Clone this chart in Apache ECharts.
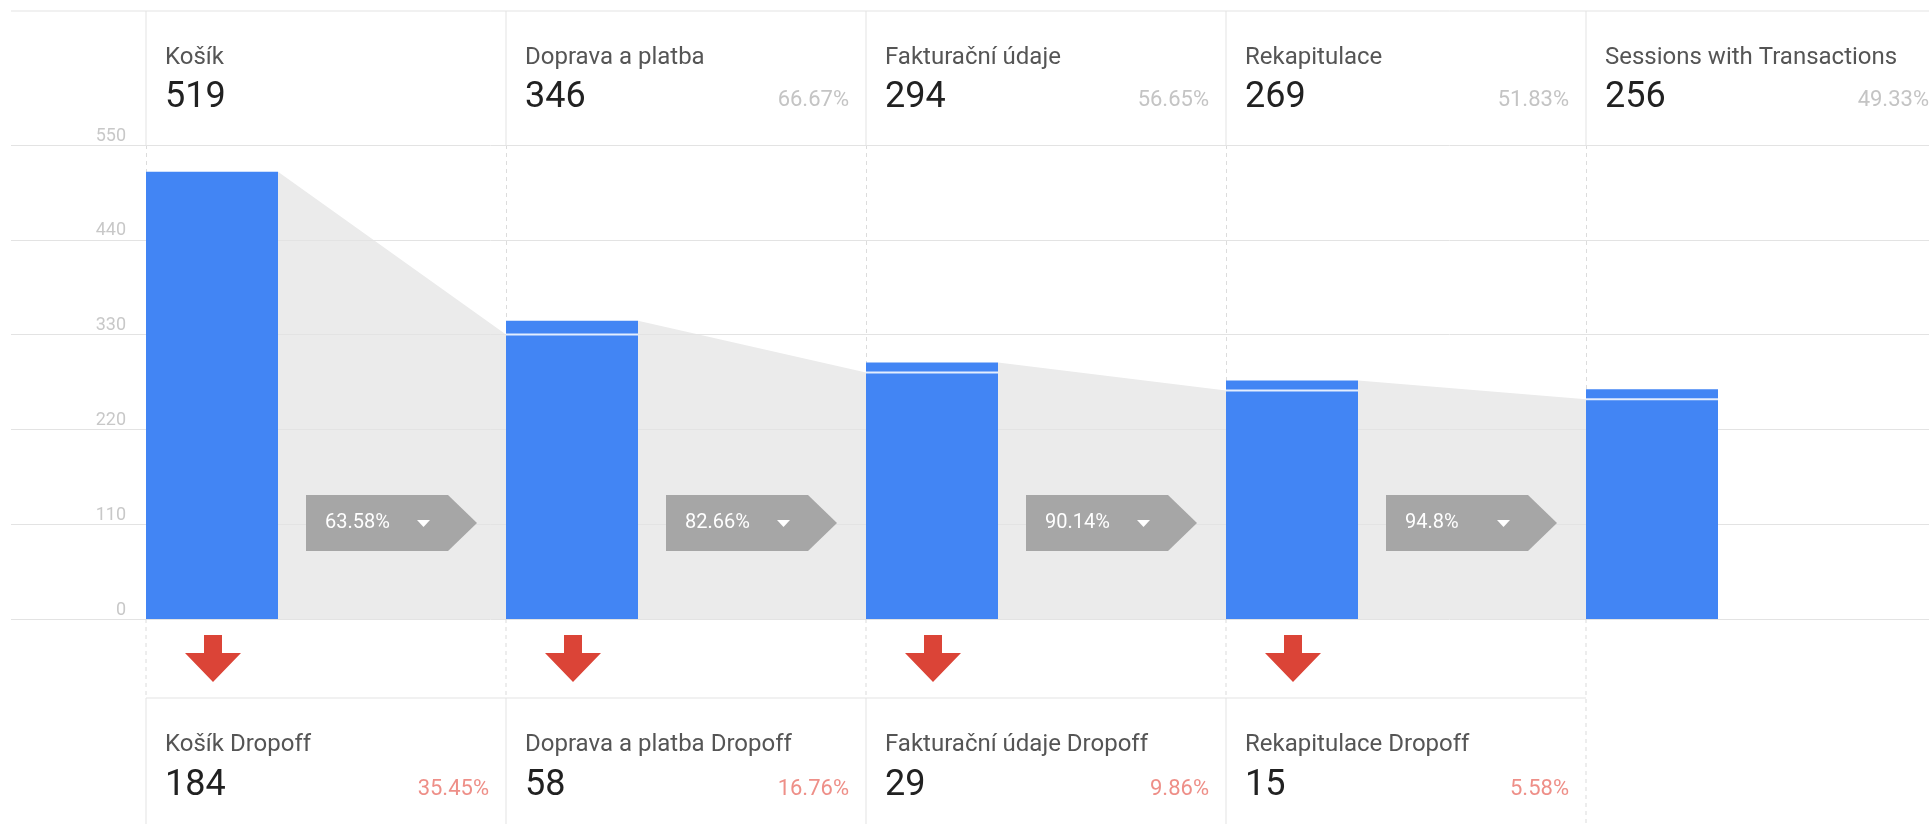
<!DOCTYPE html>
<html>
<head>
<meta charset="utf-8">
<script src="https://cdn.jsdelivr.net/npm/echarts/dist/echarts.min.js"></script>
<style>
  html, body { margin: 0; padding: 0; background: #fff; overflow: hidden; }
  #funnel { width: 1946px; height: 824px; }
</style>
</head>
<body>
<div id="funnel"></div>
<script>
// funnel steps
var steps = ['Košík', 'Doprava a platba', 'Fakturační údaje', 'Rekapitulace', 'Sessions with Transactions'];
var stepValues = [519, 346, 294, 269, 256];
var stepShares = ['', '66.67%', '56.65%', '51.83%', '49.33%'];
// sessions that came from the previous step (white divider inside the bar)
var proceeded = [519, 330, 286, 265, 255];
var conversion = ['63.58%', '82.66%', '90.14%', '94.8%'];
// dropoffs
var dropNames = ['Košík Dropoff', 'Doprava a platba Dropoff', 'Fakturační údaje Dropoff', 'Rekapitulace Dropoff'];
var dropValues = [184, 58, 29, 15];
var dropShares = ['35.45%', '16.76%', '9.86%', '5.58%'];
// y axis ticks
var yMin = 0, yMax = 550, yStep = 110;

var BLUE = '#4285f4', RED = '#db4437', FUNNEL = '#ebebeb', CHEVRON = '#a6a6a6', LINE = '#e3e3e3';
var FONT = 'Roboto';
var BAR_W = 132, MIN_TOP = 10;
var HEAD_TOP = 11, PANEL_TOP = 698, PAGE_H = 824, PAGE_W = 1929;

document.addEventListener('DOMContentLoaded', function () {
  var myChart = echarts.init(document.getElementById('funnel'));

  // bar geometry in pixels, from the axes
  function geom(api, i, total, proc) {
    var c = api.coord([i, 0]);
    var band = api.size([1, 0])[0];
    var left = c[0] - band / 2;
    var yProc = api.coord([i, proc])[1];
    var top = api.coord([i, total])[1];
    if (proc < total) top = Math.min(top, yProc - MIN_TOP);
    return { left: left, base: c[1], top: top, yProc: yProc, band: band };
  }

  function txt(x, y, text, size, color, align) {
    return {
      type: 'text', x: x, y: y, silent: true,
      style: { text: text, fill: color, fontSize: size, fontFamily: FONT, align: align || 'left', verticalAlign: 'middle' }
    };
  }

  function renderFunnel(params, api) {
    var i = api.value(0);
    var a = geom(api, i, api.value(1), api.value(2));
    var b = geom(api, i + 1, api.value(3), api.value(4));
    return {
      type: 'polygon',
      shape: { points: [[a.left + BAR_W, a.top], [b.left, b.yProc], [b.left, a.base], [a.left + BAR_W, a.base]] },
      style: { fill: FUNNEL }
    };
  }

  function renderBar(params, api) {
    var i = api.value(0);
    var total = api.value(1), proc = api.value(2);
    var g = geom(api, i, total, proc);
    var children = [{
      type: 'rect',
      shape: { x: g.left, y: g.top, width: BAR_W, height: g.base - g.top },
      style: { fill: BLUE }
    }];
    if (proc < total) {
      children.push({
        type: 'rect',
        shape: { x: g.left, y: g.yProc - 1, width: BAR_W, height: 2 },
        style: { fill: '#ffffff', opacity: 0.85 }
      });
    }
    if (i < dropValues.length) {
      var cx = g.left + 67, b = g.base;
      children.push({
        type: 'polygon',
        shape: { points: [[cx - 9, b + 16], [cx + 9, b + 16], [cx + 9, b + 34], [cx + 28, b + 34],
                          [cx, b + 63], [cx - 28, b + 34], [cx - 9, b + 34]] },
        style: { fill: RED }
      });
    }
    return { type: 'group', children: children };
  }

  function renderConversion(params, api) {
    var i = api.value(0);
    var g = geom(api, i, stepValues[i], proceeded[i]);
    var gapMid = g.left + BAR_W + (g.band - BAR_W) / 2;
    var x0 = gapMid - 86, cy = g.base - 96;
    return {
      type: 'group',
      children: [
        {
          type: 'polygon',
          shape: { points: [[x0, cy - 28], [x0 + 142, cy - 28], [x0 + 171, cy], [x0 + 142, cy + 28], [x0, cy + 28]] },
          style: { fill: CHEVRON }
        },
        txt(x0 + 19, cy, conversion[i], 20, '#ffffff'),
        {
          type: 'polygon',
          shape: { points: [[x0 + 111, cy - 3], [x0 + 124, cy - 3], [x0 + 117.5, cy + 4]] },
          style: { fill: '#ffffff' }
        }
      ]
    };
  }

  function renderLabels(params, api) {
    var i = api.value(0);
    var c = api.coord([i, 0]);
    var band = api.size([1, 0])[0];
    var left = c[0] - band / 2, right = Math.min(left + band, PAGE_W), base = c[1];
    var children = [
      { type: 'line', shape: { x1: left, y1: HEAD_TOP, x2: left, y2: base - 474 }, style: { stroke: LINE, lineWidth: 1 } },
      txt(left + 19, 58, steps[i], 24, '#555555'),
      txt(left + 19, 98, String(stepValues[i]), 36, '#212121'),
      {
        type: 'line',
        shape: { x1: left, y1: base, x2: left, y2: i < dropValues.length ? PANEL_TOP : PAGE_H },
        style: { stroke: '#dcdcdc', lineWidth: 1, lineDash: [4, 4] }
      }
    ];
    if (stepShares[i]) children.push(txt(left + band - 17, 100, stepShares[i], 22, '#c4c4c4', 'right'));
    if (i < dropValues.length) {
      children.push(
        { type: 'line', shape: { x1: left, y1: PANEL_TOP, x2: right, y2: PANEL_TOP }, style: { stroke: LINE, lineWidth: 1 } },
        { type: 'line', shape: { x1: left, y1: PANEL_TOP, x2: left, y2: PAGE_H }, style: { stroke: LINE, lineWidth: 1 } },
        txt(left + 19, 745, dropNames[i], 24, '#555555'),
        txt(left + 19, 786, String(dropValues[i]), 36, '#212121'),
        txt(left + band - 17, 789, dropShares[i], 22, '#ee8f88', 'right')
      );
    }
    return { type: 'group', children: children };
  }

  var option = {
    animation: false,
    grid: [
      { left: 11, right: 17, top: 145, height: 474 },   // full-width gridlines
      { left: 146, width: 1800, top: 145, height: 474 } // bars
    ],
    graphic: [{
      type: 'line', silent: true,
      shape: { x1: 11, y1: HEAD_TOP, x2: PAGE_W, y2: HEAD_TOP },
      style: { stroke: LINE, lineWidth: 1 }
    }],
    xAxis: [
      { gridIndex: 0, type: 'value', min: 0, max: 1, show: false },
      {
        gridIndex: 1, type: 'category', data: steps, boundaryGap: true,
        axisLine: { show: false }, axisTick: { show: false },
        axisLabel: { show: false, interval: 0 },
        splitLine: { show: true, interval: 0, lineStyle: { color: '#dcdcdc', type: [4, 4] } }
      }
    ],
    yAxis: [
      {
        gridIndex: 0, type: 'value', min: yMin, max: yMax, interval: yStep, z: 2,
        axisLine: { show: false }, axisTick: { show: false }, axisLabel: { show: false },
        splitLine: { lineStyle: { color: LINE } }
      },
      {
        gridIndex: 1, type: 'value', min: yMin, max: yMax, interval: yStep,
        axisLine: { show: false }, axisTick: { show: false }, splitLine: { show: false },
        axisLabel: { color: '#c8c8c8', fontSize: 18, fontFamily: FONT, margin: 20, verticalAlign: 'bottom' }
      }
    ],
    series: [
      {
        type: 'custom', name: 'funnel', xAxisIndex: 1, yAxisIndex: 1, z: 1, clip: false, silent: true,
        renderItem: renderFunnel,
        encode: { x: 0, y: 1 },
        data: conversion.map(function (c, i) {
          return [i, stepValues[i], proceeded[i], stepValues[i + 1], proceeded[i + 1]];
        })
      },
      {
        type: 'custom', name: 'steps', xAxisIndex: 1, yAxisIndex: 1, z: 3, clip: false,
        renderItem: renderBar,
        encode: { x: 0, y: 1 },
        data: stepValues.map(function (v, i) { return [i, v, proceeded[i]]; })
      },
      {
        type: 'custom', name: 'conversion', xAxisIndex: 1, yAxisIndex: 1, z: 3, clip: false, silent: true,
        renderItem: renderConversion,
        encode: { x: 0 },
        data: conversion.map(function (c, i) { return [i]; })
      },
      {
        type: 'custom', name: 'labels', xAxisIndex: 1, yAxisIndex: 1, z: 3, clip: false, silent: true,
        renderItem: renderLabels,
        encode: { x: 0 },
        data: steps.map(function (s, i) { return [i]; })
      }
    ]
  };

  myChart.setOption(option);
});
</script>
</body>
</html>
